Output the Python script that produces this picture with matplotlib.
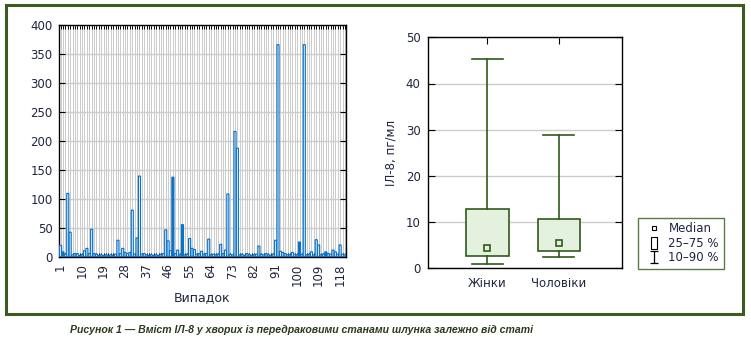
import matplotlib.pyplot as plt
from matplotlib.lines import Line2D
from matplotlib.patches import Rectangle
from matplotlib.path import Path
from matplotlib.ticker import MultipleLocator

# IL-8 per case (left panel)
cases = list(range(1, 121))
il8 = [19, 8, 4, 109, 42, 3, 5, 5, 2, 3,
       10, 14, 5, 47, 5, 4, 2, 3, 2, 3,
       2, 3, 2, 4, 28, 5, 14, 7, 5, 7,
       80, 4, 32, 139, 4, 5, 3, 2, 3, 2,
       3, 2, 4, 5, 46, 27, 10, 137, 5, 11,
       3, 55, 3, 4, 31, 14, 12, 4, 5, 9,
       4, 5, 30, 3, 4, 3, 4, 21, 5, 11,
       108, 4, 3, 216, 187, 3, 4, 2, 5, 3,
       2, 3, 4, 18, 4, 3, 5, 3, 2, 4,
       28, 366, 9, 7, 5, 3, 3, 7, 4, 3,
       25, 4, 366, 3, 4, 8, 3, 29, 20, 3,
       4, 8, 5, 4, 11, 8, 4, 20, 4, 3]
solid_cases = [2, 48, 52, 101, 112]
xtick_cases = list(range(1, 119, 9))

# box plot (right panel)
groups = ['Жінки', 'Чоловіки']
median = [4.5, 5.5]
q25 = [2.6, 3.7]
q75 = [12.8, 10.6]
p10 = [0.9, 2.4]
p90 = [45.2, 28.8]

blue = '#0a72c8'
green = '#2f5a1a'
frame_green = '#3d5b1f'
box_fill = '#e4f1df'
grid_gray = '#cccccc'
txt = '#1f2540'

plt.rcParams['font.family'] = 'DejaVu Sans'
plt.rcParams['font.size'] = 8

W, H = 751, 344
fig = plt.figure(figsize=(W / 100, H / 100), dpi=100)

# ---- left: bars per case
ax = fig.add_axes([59 / W, 1 - 256.5 / H, 287 / W, 231.5 / H])
faces = [blue if c in solid_cases else 'white' for c in cases]
bars = ax.bar(cases, il8, width=0.85, color=faces, edgecolor=blue, linewidth=0.85, zorder=3)
for b in bars:
    b.set_snap(False)
ax.set_xlim(0.33, 120.46)
ax.set_ylim(0, 400)
ax.set_xticks(xtick_cases)
ax.set_xticks(cases, minor=True)
ax.yaxis.set_major_locator(MultipleLocator(50))
ax.grid(True, axis='x', which='both', color=grid_gray, lw=0.75)
ax.grid(True, axis='y', which='major', color=grid_gray, lw=1.0)
ax.set_axisbelow(True)
ax.tick_params(axis='x', which='both', direction='in', top=True, bottom=True,
               length=3, width=0.7, labelrotation=90, pad=5, colors='black', labelcolor=txt,
               labelsize=8.5)
ax.tick_params(axis='y', which='major', direction='in', left=True, right=True,
               length=4, width=0.8, pad=4.5, labelsize=8.5, labelcolor=txt)
ax.set_xlabel('Випадок', fontsize=9, color=txt, labelpad=4)
for s in ax.spines.values():
    s.set_linewidth(1.0)

# ---- right: box plot by sex
ax2 = fig.add_axes([428.3 / W, 1 - 268.3 / H, 194 / W, 231 / H])
pos = [1, 2]
stats = [dict(med=m, q1=a, q3=b, whislo=lo, whishi=hi, label=g)
         for g, m, a, b, lo, hi in zip(groups, median, q25, q75, p10, p90)]
ax2.bxp(stats, positions=pos, widths=0.59, capwidths=0.43, showfliers=False,
        patch_artist=True,
        boxprops=dict(facecolor=box_fill, edgecolor=green, linewidth=1.2),
        whiskerprops=dict(color=green, linewidth=1.2),
        capprops=dict(color=green, linewidth=1.2),
        medianprops=dict(linestyle='none'), zorder=3)
ax2.plot(pos, median, ls='none', marker='s', ms=4.5, mfc=box_fill, mec=green,
         mew=1.2, zorder=4)
ax2.set_xlim(0.17, 2.89)
ax2.set_ylim(0, 50)
ax2.yaxis.set_major_locator(MultipleLocator(10))
ax2.grid(True, axis='y', color=grid_gray, lw=1.0, zorder=0)
ax2.set_axisbelow(True)
ax2.tick_params(axis='x', direction='in', bottom=False, top=True, length=5,
                width=0.8, pad=6, labelsize=8.5, labelcolor=txt)
ax2.tick_params(axis='y', direction='in', left=True, right=True, length=5,
                width=0.8, pad=5.5, labelsize=8.5, labelcolor=txt)
ax2.set_ylabel('ІЛ-8, пг/мл', fontsize=8.5, color=txt, labelpad=6)
for s in ax2.spines.values():
    s.set_linewidth(1.0)

# legend
rect_marker = Path([(-0.3, -0.5), (0.3, -0.5), (0.3, 0.5), (-0.3, 0.5), (-0.3, -0.5)])
ibar_marker = Path([(-0.4, 0.5), (0.4, 0.5), (0, 0.5), (0, -0.5), (-0.4, -0.5), (0.4, -0.5)],
                   [Path.MOVETO, Path.LINETO, Path.MOVETO, Path.LINETO, Path.MOVETO, Path.LINETO])
handles = [
    Line2D([], [], ls='none', marker='s', ms=2.8, mfc='white', mec='black', mew=0.8),
    Line2D([], [], ls='none', marker=rect_marker, ms=8, mfc='white', mec='black', mew=0.8),
    Line2D([], [], ls='none', marker=ibar_marker, ms=8, mfc='none', mec='black', mew=0.9),
]
leg = fig.legend(handles, ['Median', '25–75 %', '10–90 %'], loc='lower left',
                 bbox_to_anchor=(638.3 / W, 1 - 269 / H), borderaxespad=0,
                 fancybox=False, frameon=True, fontsize=8.5, handlelength=1.8,
                 handletextpad=0.35, labelspacing=0.12, borderpad=0.4)
leg.get_frame().set_edgecolor(green)
leg.get_frame().set_linewidth(1.0)
for t in leg.get_texts():
    t.set_color(txt)

# outer frame + caption
fig.patches.append(Rectangle((5.5 / W, 1 - 314 / H), 737 / W, 309.5 / H,
                             transform=fig.transFigure, fill=False,
                             edgecolor=frame_green, linewidth=2.2))
fig.text(302 / W, 1 - 330 / H,
         'Рисунок 1 — Вміст ІЛ-8 у хворих із передраковими станами шлунка залежно від статі',
         ha='center', va='center', fontsize=7.6, fontweight='bold', fontstyle='italic',
         family='Liberation Sans', color='#2a3a1c')

fig.savefig('out.png', dpi=100)
